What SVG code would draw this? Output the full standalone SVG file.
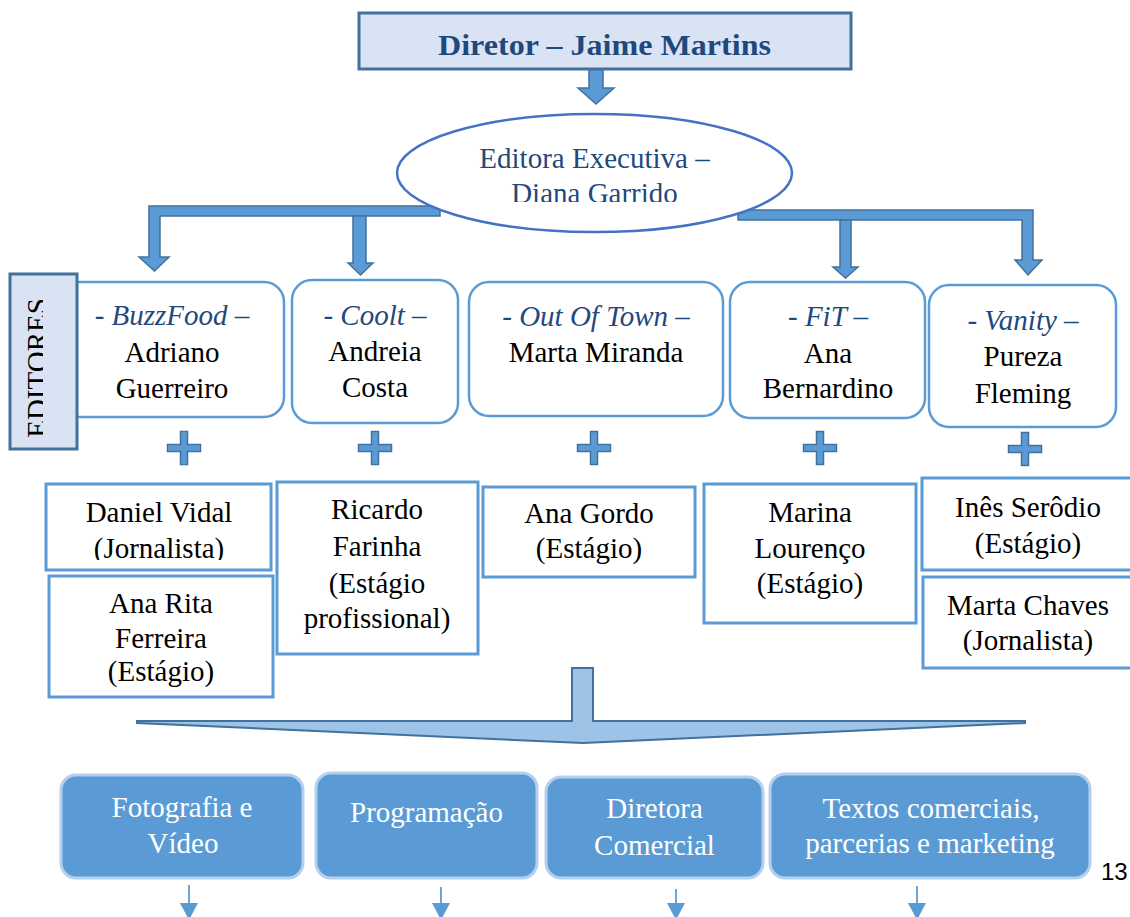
<svg xmlns="http://www.w3.org/2000/svg" width="1130" height="917" viewBox="0 0 1130 917">
<style>
text{font-family:"Liberation Serif","Times New Roman",serif;font-size:29px;text-anchor:middle;fill:#000}
.dk{fill:#1f497d}
.it{font-style:italic;fill:#1f497d}
.wh{fill:#fff}
.ed{fill:#fff;stroke:#5b9bd5;stroke-width:2.5}
.sq{fill:#fff;stroke:#5b9bd5;stroke-width:3}
.bt{fill:#5b9bd5;stroke:#b4d0ee;stroke-width:3}
.ar{fill:#5b9bd5;stroke:#41719c;stroke-width:1.5}
.thin{stroke:#5b9bd5;stroke-width:1.8;fill:none}
.tri{fill:#5b9bd5}
</style>
<defs>
<path id="plus" d="M-3.5,-16.5 h7 v13 h13 v7 h-13 v13 h-7 v-13 h-13 v-7 h13 z"/>
<clipPath id="clipEll"><rect x="380" y="110" width="430" height="92"/></clipPath>
<clipPath id="clipEd"><rect x="10" y="274" width="33" height="175"/></clipPath>
<clipPath id="clipDV"><rect x="46" y="484" width="225" height="76"/></clipPath>
</defs>

<g id="connectors">
<polygon class="ar" points="589,69 603,69 603,88 614,88 596,104 578,88 589,88"/>
<polygon class="ar" points="440,206 149,206 149,257 139,257 154.5,271 169,257 160,257 160,216 440,216"/>
<polygon class="ar" points="353,216 366,216 366,263 373,263 360.5,275 348,263 353,263"/>
<polygon class="ar" points="738,210 1033,210 1033,260 1042,260 1028,275 1015,260 1022,260 1022,220 738,220"/>
<polygon class="ar" points="840,220 851,220 851,267 858,267 845.5,278 833,267 840,267"/>
<polygon points="572,668 593,668 593,721 1025,721 1025,723 583,743 137,723 137,721 572,721" fill="#9dc3e6" stroke="#41719c" stroke-width="2"/>
<use href="#plus" class="ar" transform="translate(184,448)"/>
<use href="#plus" class="ar" transform="translate(375,448)"/>
<use href="#plus" class="ar" transform="translate(594,448)"/>
<use href="#plus" class="ar" transform="translate(820,448)"/>
<use href="#plus" class="ar" transform="translate(1025,449)"/>
<line class="thin" x1="189" y1="885" x2="189" y2="905"/>
<polygon class="tri" points="180,903 198,903 189,920"/>
<line class="thin" x1="441" y1="887" x2="441" y2="905"/>
<polygon class="tri" points="432,903 450,903 441,920"/>
<line class="thin" x1="676" y1="889" x2="676" y2="905"/>
<polygon class="tri" points="667,903 685,903 676,920"/>
<line class="thin" x1="917" y1="886" x2="917" y2="905"/>
<polygon class="tri" points="908,903 926,903 917,920"/>
</g>

<g id="diretor">
<rect x="359" y="13" width="492" height="56" fill="#dae3f3" stroke="#41719c" stroke-width="3"/>
<text x="604.5" y="55" class="dk" font-weight="bold" font-size="33" textLength="333" lengthAdjust="spacingAndGlyphs">Diretor – Jaime Martins</text>
</g>

<g id="editora-executiva">
<ellipse cx="594.5" cy="173" rx="197.5" ry="59" fill="#fff" stroke="#4472c4" stroke-width="2.5"/>
<g clip-path="url(#clipEll)">
<text x="594.5" y="168" class="dk">Editora Executiva –</text>
<text x="594.5" y="203" class="dk">Diana Garrido</text>
</g>
</g>

<g id="buzzfood">
<rect class="ed" x="55" y="282" width="229" height="135" rx="20"/>
<text x="172" y="325" class="it">- BuzzFood –</text>
<text x="172" y="362">Adriano</text>
<text x="172" y="398">Guerreiro</text>
</g>

<g id="editores">
<rect x="10" y="274" width="67" height="175" fill="#dae3f3" stroke="#41719c" stroke-width="3"/>
<g clip-path="url(#clipEd)">
<text transform="translate(47,368) rotate(-90)" font-size="30">EDITORES</text>
</g>
</g>

<g id="coolt">
<rect class="ed" x="292" y="280" width="166" height="143" rx="20"/>
<text x="375" y="325" class="it">- Coolt –</text>
<text x="375" y="361">Andreia</text>
<text x="375" y="397">Costa</text>
</g>

<g id="outoftown">
<rect class="ed" x="469" y="282" width="254" height="134" rx="20"/>
<text x="596" y="326" class="it">- Out Of Town –</text>
<text x="596" y="362">Marta Miranda</text>
</g>

<g id="fit">
<rect class="ed" x="730" y="282" width="195" height="136" rx="20"/>
<text x="828" y="326" class="it">- FiT –</text>
<text x="828" y="363">Ana</text>
<text x="828" y="398">Bernardino</text>
</g>

<g id="vanity">
<rect class="ed" x="929" y="285" width="187" height="142" rx="20"/>
<text x="1023" y="330" class="it">- Vanity –</text>
<text x="1023" y="366">Pureza</text>
<text x="1023" y="403">Fleming</text>
</g>

<g id="daniel-vidal">
<rect class="sq" x="46" y="484" width="225" height="86"/>
<g clip-path="url(#clipDV)">
<text x="159" y="522">Daniel Vidal</text>
<text x="159" y="558">(Jornalista)</text>
</g>
</g>

<g id="ana-rita">
<rect class="sq" x="49" y="576" width="224" height="121"/>
<text x="161" y="613">Ana Rita</text>
<text x="161" y="648">Ferreira</text>
<text x="161" y="681">(Estágio)</text>
</g>

<g id="ricardo">
<rect class="sq" x="277" y="482" width="201" height="172"/>
<text x="377" y="519">Ricardo</text>
<text x="377" y="556">Farinha</text>
<text x="377" y="593">(Estágio</text>
<text x="377" y="628">profissional)</text>
</g>

<g id="ana-gordo">
<rect class="sq" x="483" y="487" width="212" height="90"/>
<text x="589" y="523">Ana Gordo</text>
<text x="589" y="558">(Estágio)</text>
</g>

<g id="marina">
<rect class="sq" x="704" y="484" width="212" height="139"/>
<text x="810" y="522">Marina</text>
<text x="810" y="558">Lourenço</text>
<text x="810" y="593">(Estágio)</text>
</g>

<g id="ines">
<rect class="sq" x="922" y="478" width="230" height="92"/>
<text x="1028" y="517">Inês Serôdio</text>
<text x="1028" y="553">(Estágio)</text>
</g>

<g id="marta-chaves">
<rect class="sq" x="923" y="577" width="230" height="91"/>
<text x="1028" y="615">Marta Chaves</text>
<text x="1028" y="650">(Jornalista)</text>
</g>

<g id="fotografia">
<rect class="bt" x="61" y="775" width="242" height="103" rx="15"/>
<text x="182" y="817" class="wh">Fotografia e</text>
<text x="183" y="853" class="wh">Vídeo</text>
</g>

<g id="programacao">
<rect class="bt" x="316" y="773" width="221" height="105" rx="15"/>
<text x="426.5" y="822" class="wh">Programação</text>
</g>

<g id="diretora-comercial">
<rect class="bt" x="546" y="777" width="217" height="101" rx="15"/>
<text x="654.5" y="818" class="wh">Diretora</text>
<text x="654.5" y="855" class="wh">Comercial</text>
</g>

<g id="textos">
<rect class="bt" x="770" y="774" width="320" height="104" rx="15"/>
<text x="931" y="818" class="wh">Textos comerciais,</text>
<text x="930" y="853" class="wh">parcerias e marketing</text>
</g>

<text x="1101" y="880" style="font-family:'Liberation Sans',Arial,sans-serif;font-size:24px;text-anchor:start">13</text>
</svg>
